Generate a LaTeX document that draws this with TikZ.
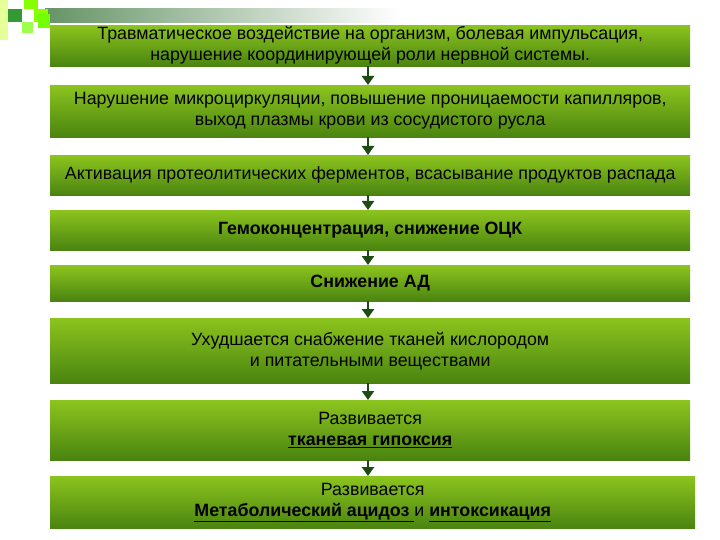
\documentclass[tikz,border=0pt]{standalone}
\usepackage{fontspec}
\setmainfont{Liberation Sans}
\usetikzlibrary{arrows.meta}
\definecolor{gtop}{HTML}{8CC41E}
\definecolor{gbot}{HTML}{4A8410}
\definecolor{arrc}{HTML}{1E4A14}
\begin{document}
\begin{tikzpicture}[x=1pt,y=-1pt,
 box/.style={draw=none,top color=gtop,bottom color=gbot,minimum width=640pt,anchor=north west,inner sep=0pt,align=center,font=\fontsize{17.8}{21}\selectfont,text=black},
 arr/.style={draw=arrc,line width=2.5pt,-{Triangle[length=9pt,width=12pt]}}]
\useasboundingbox (0,0) rectangle (720,540);
\fill[white] (0,0) rectangle (720,540);
% decoration
\shade[left color=black!70!green!60,right color=white] (45,9) rectangle (400,23);
\fill[green!50!black!80] (8,9) rectangle (22,22);
\fill[lime!70!green] (24,0) rectangle (38,9);
\fill[lime!70!green] (34,9) rectangle (48,22);
\fill[lime!60!green!70] (22,22) rectangle (33,33);
\fill[lime!40] (0,0) rectangle (8,40);
\fill[lime!60!green] (38,14) rectangle (50,28);
\node[box,minimum height=41pt] (b1) at (50,25) {Травматическое воздействие на организм, болевая импульсация,\\ нарушение координирующей роли нервной системы.};
\node[box,minimum height=52pt] (b2) at (50,85) {Нарушение микроциркуляции, повышение проницаемости капилляров,\\ выход плазмы крови из сосудистого русла};
\node[box,minimum height=40pt] (b3) at (50,155) {Активация протеолитических ферментов, всасывание продуктов распада};
\node[box,minimum height=40pt] (b4) at (50,210) {\textbf{Гемоконцентрация, снижение ОЦК}};
\node[box,minimum height=36pt] (b5) at (50,265) {\textbf{Снижение АД}};
\node[box,minimum height=65pt] (b6) at (50,318) {Ухудшается снабжение тканей кислородом\\ и питательными веществами};
\node[box,minimum height=60pt] (b7) at (50,400) {Развивается\\ \underline{\textbf{тканевая гипоксия}}};
\node[box,minimum height=52pt,minimum width=645pt] (b8) at (50,476) {Развивается\\ \underline{\textbf{Метаболический ацидоз }}и \underline{\textbf{интоксикация}}};
\foreach \a/\b in {b1/b2,b2/b3,b3/b4,b4/b5,b5/b6,b6/b7,b7/b8}
  \draw[arr] (\a.south -| 368,0) -- (\b.north -| 368,0);
\end{tikzpicture}
\end{document}
